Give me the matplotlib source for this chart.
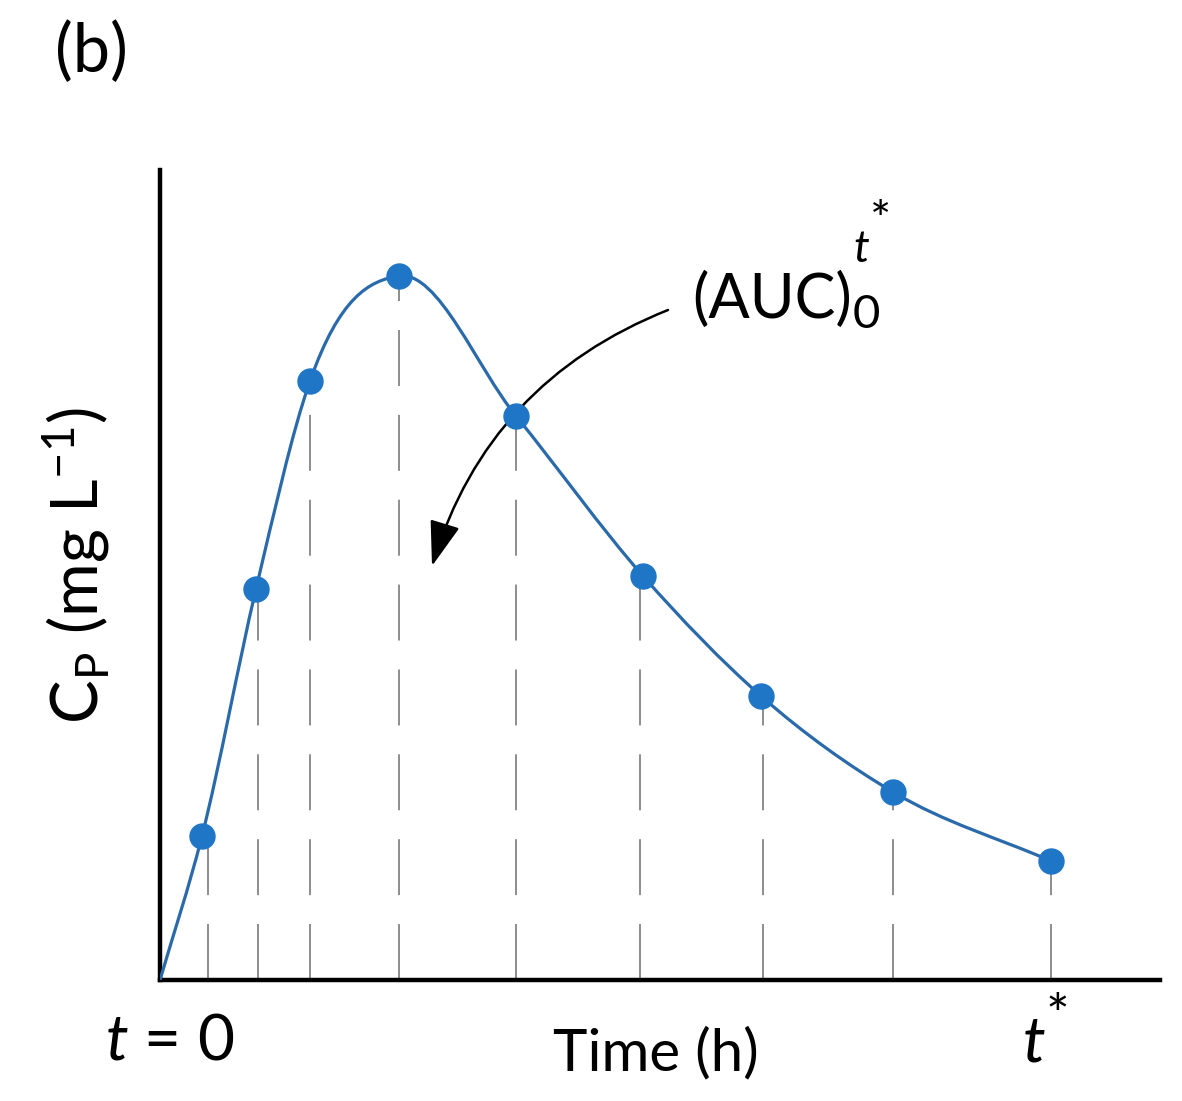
import numpy as np
import matplotlib
matplotlib.use("Agg")
import matplotlib.pyplot as plt
from matplotlib.path import Path
from matplotlib.patches import PathPatch

# data (hours, mg/L)
t_samples = [0.42, 0.96, 1.50, 2.39, 3.56, 4.83, 6.01, 7.33, 8.91]
cp_samples = [1.44, 3.91, 5.99, 7.04, 5.64, 4.04, 2.84, 1.88, 1.19]
t_drops = [0.48, 0.98, 1.50, 2.39, 3.56, 4.80, 6.03, 7.33, 8.91]

plt.rcParams['font.family'] = ['Lato', 'DejaVu Sans']
plt.rcParams['mathtext.fontset'] = 'custom'
plt.rcParams['mathtext.rm'] = 'Lato'
plt.rcParams['mathtext.it'] = 'Lato:italic'

fig = plt.figure(figsize=(11.82, 11.01), dpi=100)
ax = fig.add_axes([160/1182, 121/1101, 1000/1182, 810/1101])
ax.set_xlim(0, 10)
ax.set_ylim(0, 8.1)

# smooth curve through origin + samples (cubic hermite as bezier segments)
x = np.array([0.0] + t_samples)
y = np.array([0.0] + cp_samples)
h = np.diff(x)
s = np.diff(y) / h
m = np.empty_like(x)
m[0] = s[0]
m[-1] = s[-1]
for i in range(1, len(x) - 1):
    m[i] = (h[i] * s[i - 1] + h[i - 1] * s[i]) / (h[i - 1] + h[i])
verts = [(x[0], y[0])]
codes = [Path.MOVETO]
for i in range(len(x) - 1):
    verts += [(x[i] + h[i] / 3, y[i] + m[i] * h[i] / 3),
              (x[i + 1] - h[i] / 3, y[i + 1] - m[i + 1] * h[i] / 3),
              (x[i + 1], y[i + 1])]
    codes += [Path.CURVE4] * 3
ax.add_patch(PathPatch(Path(verts, codes), fill=False, color='#2a6aaa', lw=2.3, zorder=3))

ax.vlines(t_drops, 0, cp_samples, colors='#858585', linestyles=(0, (31, 16)), lw=1.3, zorder=1)
ax.plot(t_samples, cp_samples, 'o', color='#1f76c6', ms=18, mec='#1f76c6', zorder=4)

for sp in ['top', 'right']:
    ax.spines[sp].set_visible(False)
for sp in ['left', 'bottom']:
    ax.spines[sp].set_linewidth(3.2)
ax.set_xticks([])
ax.set_yticks([])

ax.set_ylabel(r'C$_{\rm P}$ (mg L$^{-1}$)', fontsize=47)
ax.yaxis.set_label_coords(-0.048, 0.512)
ax.set_xlabel('Time (h)', fontsize=42)
ax.xaxis.set_label_coords(0.496, -0.058)

ax.text(-0.55, -0.80, r'$t$ = 0', fontsize=46, ha='left', va='baseline')
ax.text(8.62, -0.82, r'$t$', fontsize=46, ha='left', va='baseline')
ax.text(8.86, -0.13, '*', fontsize=40, ha='left', va='top')

ax.text(5.32, 6.62, '(AUC)', fontsize=44, ha='left', va='baseline')
ax.text(6.93, 6.52, '0', fontsize=34, ha='left', va='baseline')
ax.text(6.93, 7.18, r'$t$', fontsize=32, ha='left', va='baseline')
ax.text(7.10, 7.80, '*', fontsize=36, ha='left', va='top')

ax.annotate('', xy=(2.72, 4.14), xytext=(5.08, 6.70),
            arrowprops=dict(arrowstyle='-|>,head_length=2.8,head_width=0.95', color='black',
                            lw=1.8, connectionstyle='arc3,rad=0.24', shrinkA=0, shrinkB=0))

fig.text(55/1182, 1 - 53/1101, '(b)', fontsize=48, ha='left', va='center')

fig.savefig('out.png', dpi=100)
